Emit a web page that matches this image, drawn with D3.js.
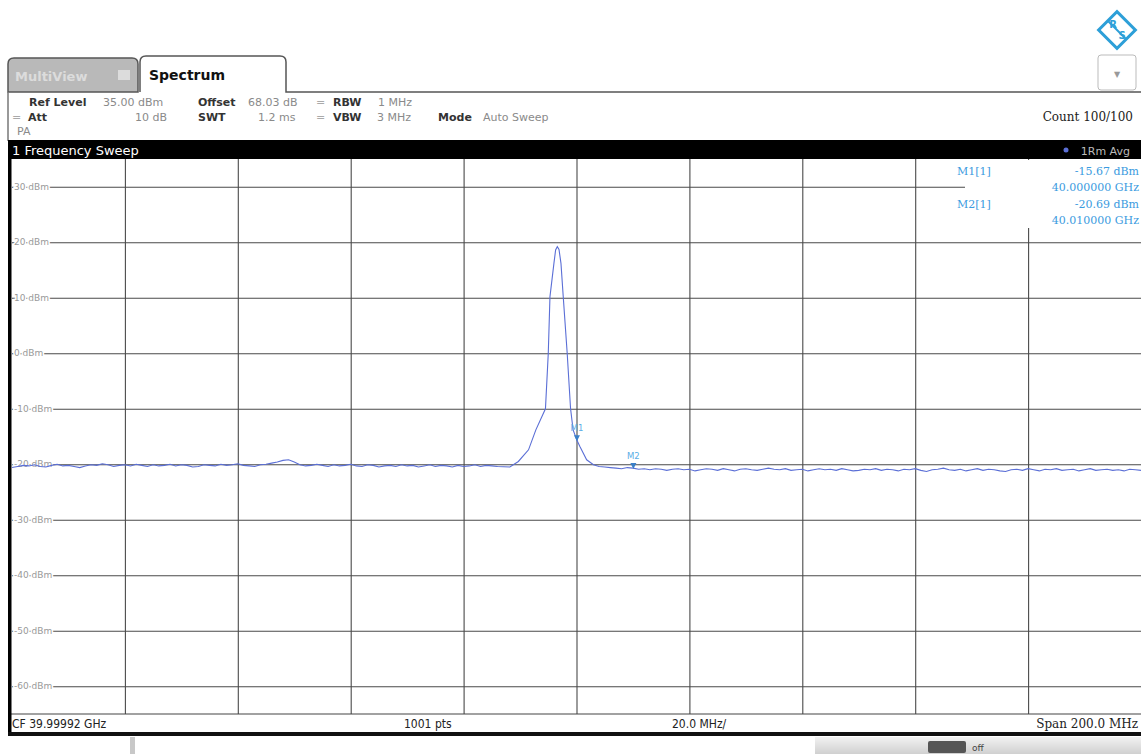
<!DOCTYPE html>
<html>
<head>
<meta charset="utf-8">
<script src="https://cdn.jsdelivr.net/npm/d3@7"></script>
<style>
  body { margin: 0; background: #fff; }
  svg { display: block; }
  .grid line { stroke: #4a4a4a; stroke-width: 1.1; }
  .grid path { display: none; }
</style>
</head>
<body>
<script>
// sweep settings
var cfGHz = 39.99992, spanMHz = 200;
var levelTicks = [30, 20, 10, 0, -10, -20, -30, -40, -50, -60];

// trace, left flat part: -100 MHz .. -14 MHz from CF, 1 MHz steps (dBm)
var baseLeft = [-20.6, -20.4, -20.2, -20.3, -20.1, -20.4, -20.5, -20.2, -20.0, -20.3,
  -20.2, -20.4, -20.6, -20.3, -20.1, -20.2, -19.9, -20.1, -20.4, -20.2,
  -20.1, -20.3, -20.0, -20.2, -20.4, -20.1, -20.3, -20.2, -20.0, -20.3,
  -20.1, -20.2, -20.5, -20.4, -20.1, -20.2, -20.3, -20.0, -20.2, -20.1,
  -19.9, -20.2, -20.3, -20.4, -20.1, -20.0, -19.8, -19.6, -19.3, -19.2,
  -19.6, -20.1, -20.3, -20.2, -20.0, -20.2, -20.4, -20.1, -20.3, -20.2,
  -20.0, -20.3, -20.4, -20.1, -20.2, -20.5, -20.3, -20.2, -20.4, -20.1,
  -20.3, -20.2, -20.5, -20.3, -20.1, -20.4, -20.2, -20.3, -20.5, -20.2,
  -20.4, -20.3, -20.1, -20.4, -20.2, -20.3, -20.4];
// carrier region (offset from CF in MHz, level dBm)
var peakOffsets = [-11.8, -10.3, -8.5, -7.2, -5.5, -5.0, -4.7, -4.0, -3.7, -3.4, -3.1, -2.75, -2.35, -1.65, -1.05, -0.6, 0.08, 0.6, 1.8, 3.0];
var peakLevels  = [-20.5, -19.5, -17.4, -13.8, -10.0, 0.0, 10.2, 16.2, 18.6, 19.2, 18.7, 16.2, 10.2, 0.0, -10.0, -13.8, -15.67, -16.8, -19.2, -20.1];
// trace, right flat part: 4 MHz .. 100 MHz from CF, 1 MHz steps (dBm)
var baseRight = [-20.4, -20.5, -20.6, -20.7, -20.8, -20.6, -20.7, -20.9, -20.8, -21.0,
  -20.8, -20.9, -21.1, -20.9, -20.8, -21.0, -20.9, -21.2, -21.0, -20.8,
  -20.9, -21.1, -20.8, -21.0, -21.2, -20.9, -20.8, -21.0, -21.1, -20.9,
  -20.7, -20.9, -21.0, -20.8, -21.1, -21.0, -20.9, -21.2, -21.0, -20.8,
  -21.0, -20.9, -21.1, -20.8, -21.0, -21.2, -21.1, -20.9, -21.0, -20.8,
  -21.1, -20.9, -21.0, -21.2, -20.9, -21.0, -20.8, -21.1, -21.3, -21.0,
  -20.9, -20.7, -21.0, -21.1, -20.9, -21.2, -21.0, -20.8, -21.1, -20.9,
  -21.0, -21.2, -21.3, -21.0, -20.9, -21.1, -20.8, -21.0, -21.2, -20.9,
  -21.0, -20.8, -21.1, -21.0, -20.9, -21.2, -21.0, -20.8, -21.1, -21.0,
  -20.9, -21.1, -21.0, -21.2, -20.9, -21.0, -21.1];

var markers = [
  {name: "M1", freq: 40.000000, level: -15.67},
  {name: "M2", freq: 40.010000, level: -20.69}
];

var W = 1141, H = 754;
var pLeft = 12, pRight = 1141, pTop = 159, pBottom = 714;

var svg = d3.select("body").append("svg")
    .attr("width", W)
    .attr("height", H)
    .style("font-family", "DejaVu Sans");

var x = d3.scaleLinear()
    .domain([cfGHz - spanMHz / 2000, cfGHz + spanMHz / 2000])
    .range([pLeft, pRight]);
var y = d3.scaleLinear()
    .domain([-65, 35])
    .range([pBottom, pTop]);

// ---------- tabs / header ----------
svg.append("path")
    .attr("d", "M8,92 L8,64 Q8,58 14,58 L132,58 Q138,58 138,64 L138,92 Z")
    .attr("fill", "#b9b9b9").attr("stroke", "#555").attr("stroke-width", 1.5);
svg.append("text").attr("x", 15).attr("y", 81)
    .attr("font-size", 13).attr("font-weight", "bold").attr("fill", "#dcdcdc")
    .text("MultiView");
svg.append("rect").attr("x", 118).attr("y", 70).attr("width", 12).attr("height", 10)
    .attr("fill", "#dcdcdc");
svg.append("path")
    .attr("d", "M1141,92 L286,92 L286,62 Q286,56 280,56 L146,56 Q140,56 140,62 L140,92")
    .attr("fill", "#fff").attr("stroke", "#555").attr("stroke-width", 1.5);
svg.append("text").attr("x", 149).attr("y", 80)
    .attr("font-size", 14).attr("font-weight", "bold").attr("fill", "#111")
    .text("Spectrum");

// R&S logo + dropdown
var logo = svg.append("g").attr("transform", "translate(1117,30)");
logo.append("rect").attr("x", -13).attr("y", -13).attr("width", 26).attr("height", 26)
    .attr("transform", "rotate(45)").attr("fill", "none")
    .attr("stroke", "#2d9fd8").attr("stroke-width", 3);
logo.append("line").attr("x1", -9).attr("y1", -9).attr("x2", 9).attr("y2", 9)
    .attr("stroke", "#2d9fd8").attr("stroke-width", 2);
logo.append("text").attr("x", -4).attr("y", -2).attr("text-anchor", "middle")
    .attr("font-size", 10).attr("font-weight", "bold").attr("fill", "#2d9fd8").text("R");
logo.append("text").attr("x", 5).attr("y", 9).attr("text-anchor", "middle")
    .attr("font-size", 10).attr("font-weight", "bold").attr("fill", "#2d9fd8").text("S");
svg.append("rect").attr("x", 1098).attr("y", 55).attr("width", 38).attr("height", 35)
    .attr("rx", 3).attr("fill", "#fff").attr("stroke", "#bbb");
svg.append("text").attr("x", 1117).attr("y", 77).attr("text-anchor", "middle")
    .attr("font-size", 8).attr("fill", "#999").text("▼");

// settings lines
svg.append("line").attr("x1", 8).attr("x2", 8).attr("y1", 92).attr("y2", 141)
    .attr("stroke", "#777").attr("stroke-width", 1.5);
var info = [
  {x: 29, y: 106, t: "Ref Level", b: true}, {x: 103, y: 106, t: "35.00 dBm"},
  {x: 198, y: 106, t: "Offset", b: true}, {x: 248, y: 106, t: "68.03 dB"},
  {x: 316, y: 106, t: "=", c: "#aaa"}, {x: 333, y: 106, t: "RBW", b: true}, {x: 378, y: 106, t: "1 MHz"},
  {x: 12, y: 121, t: "=", c: "#aaa"}, {x: 28, y: 121, t: "Att", b: true}, {x: 135, y: 121, t: "10 dB"},
  {x: 198, y: 121, t: "SWT", b: true}, {x: 258, y: 121, t: "1.2 ms"},
  {x: 316, y: 121, t: "=", c: "#aaa"}, {x: 333, y: 121, t: "VBW", b: true}, {x: 377, y: 121, t: "3 MHz"},
  {x: 438, y: 121, t: "Mode", b: true}, {x: 483, y: 121, t: "Auto Sweep"},
  {x: 17, y: 135, t: "PA"}
];
svg.append("g").selectAll("text").data(info).enter().append("text")
    .attr("x", function(d) { return d.x; })
    .attr("y", function(d) { return d.y; })
    .attr("font-size", 11)
    .attr("font-weight", function(d) { return d.b ? "bold" : "normal"; })
    .attr("fill", function(d) { return d.c || (d.b ? "#333" : "#8a8a8a"); })
    .text(function(d) { return d.t; });
svg.append("text").attr("x", 1133).attr("y", 121).attr("text-anchor", "end")
    .attr("font-family", "DejaVu Serif").attr("font-size", 12).attr("fill", "#222")
    .text("Count 100/100");

// title bar
svg.append("rect").attr("x", 8).attr("y", 140).attr("width", W - 8).attr("height", 19)
    .attr("fill", "#000");
svg.append("text").attr("x", 12).attr("y", 155)
    .attr("font-size", 13).attr("fill", "#fff").text("1 Frequency Sweep");
svg.append("circle").attr("cx", 1066).attr("cy", 150).attr("r", 2.5).attr("fill", "#5b6fd6");
svg.append("text").attr("x", 1130).attr("y", 155).attr("text-anchor", "end")
    .attr("font-size", 11).attr("fill", "#bbb").text("1Rm Avg");

// ---------- grid ----------
var vLines = d3.range(1, 10).map(function(i) { return x.invert(pLeft + i * (pRight - pLeft) / 10); });
svg.append("g")
    .attr("class", "grid")
    .attr("transform", "translate(0," + pBottom + ")")
    .call(d3.axisBottom(x).tickValues(vLines).tickSize(-(pBottom - pTop)).tickFormat(""));
svg.append("g")
    .attr("class", "grid")
    .attr("transform", "translate(" + pLeft + ",0)")
    .call(d3.axisRight(y).tickValues(levelTicks).tickSize(pRight - pLeft).tickFormat(""));

// marker table area covers the grid
svg.append("rect").attr("x", 965).attr("y", pTop + 1).attr("width", W - 965).attr("height", 68)
    .attr("fill", "#fff");

// level labels
svg.append("g").selectAll("text").data(levelTicks).enter().append("text")
    .attr("x", 14)
    .attr("y", function(d) { return y(d) + 3; })
    .attr("font-size", 9)
    .attr("fill", "#999")
    .attr("stroke", "#fff").attr("stroke-width", 3).attr("paint-order", "stroke")
    .text(function(d) { return d + " dBm"; });

// ---------- trace ----------
var trace = [];
baseLeft.forEach(function(v, i) { trace.push({f: cfGHz + (-100 + i) / 1000, v: v}); });
peakOffsets.forEach(function(o, i) { trace.push({f: cfGHz + o / 1000, v: peakLevels[i]}); });
baseRight.forEach(function(v, i) { trace.push({f: cfGHz + (4 + i) / 1000, v: v}); });

var line = d3.line()
    .x(function(d) { return x(d.f); })
    .y(function(d) { return y(d.v); });
svg.append("path")
    .datum(trace)
    .attr("d", line)
    .attr("fill", "none")
    .attr("stroke", "#5b6fd6")
    .attr("stroke-width", 1.1);

// markers
var mk = svg.append("g").selectAll("g").data(markers).enter().append("g")
    .attr("transform", function(d) { return "translate(" + x(d.freq) + "," + y(d.level) + ")"; });
mk.append("path").attr("d", "M-3,-5 L3,-5 L0,1 Z").attr("fill", "#3a7fc8");
mk.append("text").attr("y", -9).attr("text-anchor", "middle")
    .attr("font-size", 8.5).attr("fill", "#5aaee6")
    .text(function(d) { return d.name; });

// marker table
var mt = svg.append("g").attr("font-family", "DejaVu Serif").attr("font-size", 11).attr("fill", "#3b9be0");
markers.forEach(function(d, i) {
  var yy = 175 + i * 33;
  mt.append("text").attr("x", 957).attr("y", yy).text(d.name + "[1]");
  mt.append("text").attr("x", 1139).attr("y", yy).attr("text-anchor", "end")
      .text(d.level.toFixed(2) + " dBm");
  mt.append("text").attr("x", 1139).attr("y", yy + 16).attr("text-anchor", "end")
      .text(d.freq.toFixed(6) + " GHz");
});

// ---------- status line + frame ----------
svg.append("line").attr("x1", 8).attr("x2", W).attr("y1", pBottom).attr("y2", pBottom)
    .attr("stroke", "#444").attr("stroke-width", 1.2);
var st = svg.append("g").attr("font-family", "DejaVu Sans Condensed").attr("font-size", 12).attr("fill", "#222");
st.append("text").attr("x", 12).attr("y", 728).text("CF " + cfGHz + " GHz");
st.append("text").attr("x", 404).attr("y", 728).text("1001 pts");
st.append("text").attr("x", 672).attr("y", 728).text((spanMHz / 10).toFixed(1) + " MHz/");
st.append("text").attr("x", 1138).attr("y", 728).attr("text-anchor", "end")
    .attr("font-family", "DejaVu Serif").text("Span " + spanMHz.toFixed(1) + " MHz");

svg.append("rect").attr("x", 8).attr("y", 140).attr("width", 3.5).attr("height", 595).attr("fill", "#000");
svg.append("rect").attr("x", 8).attr("y", 732).attr("width", W - 8).attr("height", 4).attr("fill", "#111");

// bottom tool strip
svg.append("rect").attr("x", 130).attr("y", 737).attr("width", 5).attr("height", 17).attr("fill", "#c8c8c8");
var grad = svg.append("defs").append("linearGradient").attr("id", "tb")
    .attr("x1", 0).attr("x2", 0).attr("y1", 0).attr("y2", 1);
grad.append("stop").attr("offset", 0).attr("stop-color", "#f2f2f2");
grad.append("stop").attr("offset", 1).attr("stop-color", "#d0d0d0");
svg.append("rect").attr("x", 815).attr("y", 737).attr("width", W - 815).attr("height", 17).attr("fill", "url(#tb)");
svg.append("rect").attr("x", 928).attr("y", 741).attr("width", 38).attr("height", 12).attr("rx", 2).attr("fill", "#555");
svg.append("text").attr("x", 972).attr("y", 751).attr("font-size", 9).attr("fill", "#444").text("off");
</script>
</body>
</html>
